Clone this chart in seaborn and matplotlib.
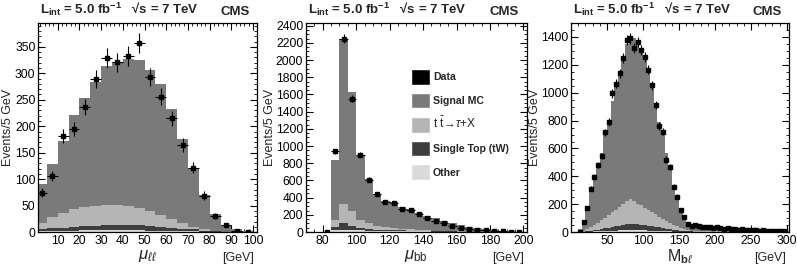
import numpy as np
import pandas as pd
import matplotlib
matplotlib.use("Agg")
import matplotlib.pyplot as plt
import matplotlib.ticker as mticker
from matplotlib.patches import Patch
import seaborn as sns

# ── Style ─────────────────────────────────────────────────────────────────────
sns.set_theme(style="ticks")
plt.rcParams["font.family"] = ["Liberation Sans", "DejaVu Sans"]
plt.rcParams["mathtext.fontset"] = "custom"
plt.rcParams["mathtext.rm"] = "Liberation Sans"
plt.rcParams["mathtext.it"] = "Liberation Sans:italic"
plt.rcParams["mathtext.bf"] = "Liberation Sans:bold"

PROCESSES = ["Signal MC", "ttbar", "Single Top (tW)", "Other"]
COLORS = {"Signal MC": "#7a7a7a", "ttbar": "#b5b5b5",
          "Single Top (tW)": "#3e3e3e", "Other": "#dadada"}

# ── Panel 1: mu_ll (5 GeV bins, 0-100) ───────────────────────────────────────
ll_edges = list(range(0, 105, 5))
ll_signal = [72, 100, 136, 179, 206, 235, 263, 270, 278, 280,
             266, 246, 208, 159, 112, 65, 33, 13, 5, 2]
ll_ttbar = [12, 21, 29, 34, 36, 37, 38, 37, 35, 32,
            29, 24, 17, 11, 5, 2, 0, 0, 0, 0]
ll_stop = [3, 4, 5, 6, 7, 8, 9, 10, 10, 9,
           8, 6, 5, 4, 3, 2, 1, 1, 0, 0]
ll_other = [3, 3, 3, 3, 4, 4, 4, 4, 4, 4,
            3, 3, 3, 2, 2, 1, 1, 0, 0, 0]
ll_data = [74, 106, 181, 195, 237, 289, 329, 321, 333, 358,
           293, 256, 215, 165, 122, 69, 30, 13, 3, 1]

# ── Panel 2: mu_bb (5 GeV bins, 85-200) ──────────────────────────────────────
bb_edges = list(range(85, 205, 5))
bb_signal = [700, 1920, 1385, 755, 515, 365, 300, 295, 250, 230, 197, 168,
             142, 116, 95, 72, 54, 40, 28, 20, 13, 9, 6]
bb_ttbar = [85, 230, 170, 100, 65, 45, 35, 28, 20, 17, 12, 8,
            6, 4, 2, 2, 1, 1, 1, 0, 0, 0, 0]
bb_stop = [30, 70, 50, 25, 20, 17, 13, 11, 10, 9, 8, 7,
           6, 5, 4, 3, 2, 2, 1, 1, 1, 0, 0]
bb_other = [25, 30, 25, 20, 15, 13, 12, 11, 10, 9, 8, 7,
            6, 5, 4, 3, 3, 2, 2, 1, 1, 1, 0]
bb_data_x = [82.5, 87.5, 92.5, 97.5, 102.5, 107.5, 112.5, 117.5, 122.5, 127.5,
             132.5, 137.5, 142.5, 147.5, 152.5, 157.5, 162.5, 167.5, 172.5,
             177.5, 182.5, 187.5, 192.5, 197.5]
bb_data = [0, 940, 2250, 1550, 900, 610, 440, 355, 340, 265, 255, 205,
           160, 125, 100, 75, 50, 35, 28, 20, 12, 8, 6, 4]

# ── Panel 3: M_bl (5 GeV bins, 10-300) ───────────────────────────────────────
bl_edges = list(range(10, 305, 5))
bl_signal = [16, 70, 164, 264, 348, 422, 486, 597, 668, 799,
             900, 961, 1052, 1129, 1156, 1170, 1165, 1129, 1085, 1011,
             907, 793, 679, 605, 490, 384, 287, 204, 129, 79,
             47, 37, 34,
             33, 31, 29, 27, 25, 23, 21, 19, 17, 16, 15, 14, 13,
             12, 11, 10, 9, 8, 7, 6, 5, 4, 3, 3, 2]
bl_ttbar = [2, 6, 14, 26, 38, 50, 62, 76, 90, 104,
            118, 132, 146, 165, 175, 162, 150, 138, 126, 114,
            102, 90, 78, 66, 55, 45, 36, 28, 20, 13,
            7, 3, 2,
            1, 1, 1, 1, 1, 1, 1, 1, 1, 1, 1, 1, 1,
            1, 1, 1, 1, 1, 1, 1, 1, 1, 1, 1, 1]
bl_stop = [1, 2, 4, 6, 9, 12, 15, 19, 23, 27,
           31, 35, 39, 43, 45, 44, 42, 40, 37, 34,
           31, 28, 25, 22, 19, 16, 13, 10, 8, 6,
           4, 3, 2,
           2, 2, 2, 2, 2, 2, 2, 2, 2, 2, 2, 2, 2,
           2, 2, 2, 2, 2, 2, 2, 2, 2, 2, 2, 2]
bl_other = [1, 2, 3, 4, 5, 6, 7, 8, 9, 10,
            11, 12, 13, 13, 14, 14, 13, 13, 12, 11,
            10, 9, 8, 7, 6, 5, 4, 3, 3, 2,
            2, 2, 2,
            2, 2, 2, 2, 2, 2, 2, 2, 2, 2, 2, 2, 2,
            2, 2, 2, 2, 2, 2, 2, 2, 2, 2, 2, 2]
bl_data = [0, 75, 175, 310, 395, 480, 545, 715, 790, 995,
           1065, 1140, 1250, 1380, 1390, 1320, 1365, 1305, 1255, 1165,
           1055, 910, 760, 720, 520, 465, 325, 255, 155, 110,
           60, 45, 50,
           45, 40, 35, 40, 30, 35, 30, 25, 30, 25, 20, 15, 20,
           15, 15, 15, 15, 10, 12, 10, 10, 8, 8, 5, 8]


def centers_of(edges):
    e = np.asarray(edges, dtype=float)
    return (e[:-1] + e[1:]) / 2


def stack_frame(edges, signal, ttbar, stop, other):
    centers = centers_of(edges)
    parts = []
    for name, vals in zip(PROCESSES, [signal, ttbar, stop, other]):
        parts.append(pd.DataFrame({"x": centers, "w": vals, "process": name}))
    return pd.concat(parts, ignore_index=True)


def draw_panel(ax, edges, signal, ttbar, stop, other, data_x, data, ylabel_x):
    df = stack_frame(edges, signal, ttbar, stop, other)
    sns.histplot(data=df, x="x", weights="w", hue="process", hue_order=PROCESSES,
                 multiple="stack", bins=edges, palette=COLORS, element="bars",
                 linewidth=0, alpha=1, legend=False, ax=ax)
    data = np.asarray(data, dtype=float)
    ax.errorbar(data_x, data, yerr=np.sqrt(data), xerr=2.5, fmt="s",
                color="black", ms=2.4, elinewidth=0.8, capsize=0, zorder=5)
    ax.tick_params(which="both", direction="in", top=True, right=True,
                   labelsize=8.7, colors="black", pad=2)
    ax.tick_params(which="major", length=5, width=0.8)
    ax.tick_params(which="minor", length=2.5, width=0.6)
    for sp in ax.spines.values():
        sp.set_linewidth(0.9)
        sp.set_color("black")
    ax.set_xlabel("")
    ax.set_ylabel("Events/5 GeV", fontsize=9)
    ax.yaxis.set_label_coords(ylabel_x, 0.5)
    ax.text(0.01, 1.025, r"L$_{\mathbf{int}}$ = 5.0 fb$^{\mathbf{-1}}$   √s = 7 TeV",
            transform=ax.transAxes, ha="left", va="bottom", fontsize=9.5, fontweight="bold")
    ax.text(0.965, 1.025, "CMS", transform=ax.transAxes, ha="right", va="bottom",
            fontsize=9.5, fontweight="bold")
    ax.text(0.985, -0.097, "[GeV]", transform=ax.transAxes, ha="right", va="top", fontsize=9)


fig = plt.figure(figsize=(7.97, 2.68), dpi=100)
ax1 = fig.add_axes([0.048, 0.134, 0.275, 0.78])
ax2 = fig.add_axes([0.384, 0.134, 0.277, 0.78])
ax3 = fig.add_axes([0.7165, 0.134, 0.2735, 0.78])

# panel 1
draw_panel(ax1, ll_edges, ll_signal, ll_ttbar, ll_stop, ll_other,
           centers_of(ll_edges), ll_data, -0.11)
ax1.set_xlim(1, 102)
ax1.set_ylim(0, 395)
ax1.set_xticks(np.arange(10, 101, 10))
ax1.xaxis.set_minor_locator(mticker.MultipleLocator(2))
ax1.yaxis.set_major_locator(mticker.MultipleLocator(50))
ax1.yaxis.set_minor_locator(mticker.MultipleLocator(10))
ax1.text(0.5, -0.075, r"$\mu_{\ell\ell}$", transform=ax1.transAxes,
         ha="center", va="top", fontsize=12)

# panel 2
draw_panel(ax2, bb_edges, bb_signal, bb_ttbar, bb_stop, bb_other, bb_data_x, bb_data, -0.135)
ax2.set_xlim(70, 202)
ax2.set_ylim(0, 2430)
ax2.set_xticks(np.arange(80, 201, 20))
ax2.xaxis.set_minor_locator(mticker.MultipleLocator(5))
ax2.yaxis.set_major_locator(mticker.MultipleLocator(200))
ax2.yaxis.set_minor_locator(mticker.MultipleLocator(50))
ax2.text(0.5, -0.075, r"$\mu_{\rm bb}$", transform=ax2.transAxes,
         ha="center", va="top", fontsize=12)

handles = [Patch(facecolor="black"), Patch(facecolor=COLORS["Signal MC"]),
           Patch(facecolor=COLORS["ttbar"]), Patch(facecolor=COLORS["Single Top (tW)"]),
           Patch(facecolor=COLORS["Other"])]
labels = ["Data", "Signal MC", r"t $\bar{\rm t}\!\rightarrow\!\tau$+X",
          "Single Top (tW)", "Other"]
leg = ax2.legend(handles, labels, loc="upper left", bbox_to_anchor=(0.474, 0.78),
                 frameon=False, fontsize=7.6, handlelength=1.8, handleheight=1.9,
                 labelspacing=0.75, handletextpad=0.3, borderpad=0, borderaxespad=0)
for t in leg.get_texts():
    if "rightarrow" not in t.get_text():
        t.set_fontweight("bold")
    else:
        t.set_fontsize(8.5)

# panel 3
draw_panel(ax3, bl_edges, bl_signal, bl_ttbar, bl_stop, bl_other,
           centers_of(bl_edges), bl_data, -0.136)
ax3.set_xlim(0, 303)
ax3.set_ylim(0, 1500)
ax3.set_xticks(np.arange(50, 301, 50))
ax3.xaxis.set_minor_locator(mticker.MultipleLocator(10))
ax3.yaxis.set_major_locator(mticker.MultipleLocator(200))
ax3.yaxis.set_minor_locator(mticker.MultipleLocator(50))
ax3.text(0.5, -0.075, r"M$_{\mathbf{b}\ell}$", transform=ax3.transAxes,
         ha="center", va="top", fontsize=11.5)

fig.savefig("out.png", dpi=100)
